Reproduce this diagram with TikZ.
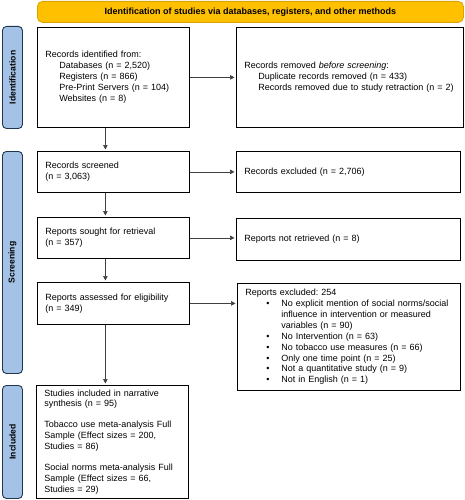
\documentclass[tikz,border=0pt]{standalone}
\usepackage{fontspec}
\setmainfont{Liberation Sans}
\usetikzlibrary{arrows.meta,calc}
\definecolor{bannerfill}{HTML}{FFC000}
\definecolor{bannerdraw}{HTML}{D9A400}
\definecolor{sidefill}{HTML}{A4C2E6}
\definecolor{sidedraw}{HTML}{1F3550}
\definecolor{arrowcol}{HTML}{404040}
\newcommand{\bitem}[1]{\makebox[36pt][l]{\hspace*{21pt}\textbullet}#1}
\newcommand{\bcont}[1]{\hspace*{36pt}#1}
\frenchspacing
\begin{document}
\begin{tikzpicture}[x=1pt,y=-1pt,
  every node/.style={font=\fontsize{9pt}{10.9pt}\selectfont},
  flowbox/.style={draw=black,line width=0.8pt,fill=white,anchor=north west,align=left,inner xsep=8pt,inner ysep=0pt},
  sidebar/.style={draw=sidedraw,line width=0.9pt,fill=sidefill,rounded corners=4pt,anchor=north west,minimum width=20pt,inner sep=0pt},
  sidelabel/.style={rotate=90,font=\bfseries\fontsize{8.6pt}{10pt}\selectfont},
  flowarrow/.style={draw=arrowcol,line width=0.7pt,-{Triangle[length=4.5pt,width=4.5pt]},shorten >=1.5pt}
]
\useasboundingbox (0,0) rectangle (465,500);
\fill[white] (0,0) rectangle (465,500);

% banner
\node[draw=bannerdraw,line width=0.8pt,fill=bannerfill,rounded corners=5pt,anchor=north west,minimum width=426pt,minimum height=21pt,inner sep=0pt,font=\bfseries\fontsize{9pt}{10pt}\selectfont] (banner) at (37,1) {Identification of studies via databases, registers, and other methods};

% sidebars
\node[sidebar,minimum height=102pt] (sid) at (2,26) {};
\node[sidelabel] at (sid.center) {Identification};
\node[sidebar,minimum height=222pt] (sscr) at (2,151) {};
\node[sidelabel] at (sscr.center) {Screening};
\node[sidebar,minimum height=113pt] (sinc) at (2,385) {};
\node[sidelabel] at (sinc.center) {Included};

% identification boxes
\node[flowbox,minimum width=152pt,minimum height=100pt,text width=136pt] (ident) at (37,27)
 {Records identified from:\\
  \hspace*{14pt}Databases (n = 2,520)\\
  \hspace*{14pt}Registers (n = 866)\\
  \hspace*{14pt}Pre-Print Servers (n = 104)\\
  \hspace*{14pt}Websites (n = 8)};
\node[flowbox,minimum width=227pt,minimum height=100pt,text width=211pt] (removed) at (236,27)
 {Records removed \textit{before screening}:\\
  \hspace*{14pt}Duplicate records removed (n = 433)\\
  \hspace*{14pt}Records removed due to study retraction (n = 2)};

% screening boxes
\node[flowbox,minimum width=152pt,minimum height=41pt,text width=136pt] (screened) at (37,151)
 {Records screened\\(n = 3,063)};
\node[flowbox,minimum width=224pt,minimum height=41pt,text width=208pt] (excluded) at (236,151)
 {Records excluded (n = 2,706)};

\node[flowbox,minimum width=152pt,minimum height=41pt,text width=136pt] (sought) at (37,217)
 {Reports sought for retrieval\\(n = 357)};
\node[flowbox,minimum width=224pt,minimum height=42pt,text width=208pt] (notret) at (236,218)
 {Reports not retrieved (n = 8)};

\node[flowbox,minimum width=152pt,minimum height=42pt,text width=136pt] (assessed) at (37,282)
 {Reports assessed for eligibility\\(n = 349)};
\node[flowbox,minimum width=223pt,minimum height=107pt,text width=207pt] (repexcl) at (237,283)
 {Reports excluded: 254\\
  \bitem{No explicit mention of social norms/social}\\
  \bcont{influence in intervention or measured}\\
  \bcont{variables (n = 90)}\\
  \bitem{No Intervention (n = 63)}\\
  \bitem{No tobacco use measures (n = 66)}\\
  \bitem{Only one time point (n = 25)}\\
  \bitem{Not a quantitative study (n = 9)}\\
  \bitem{Not in English (n = 1)}};

% included box
\node[flowbox,minimum width=152pt,minimum height=113pt,text width=136pt] (included) at (36,385)
 {Studies included in narrative\\
  synthesis (n = 95)\\[10pt]
  Tobacco use meta-analysis Full\\
  Sample (Effect sizes = 200,\\
  Studies = 86)\\[10pt]
  Social norms meta-analysis Full\\
  Sample (Effect sizes = 66,\\
  Studies = 29)};

% arrows
\draw[flowarrow] (ident.east) -- (removed.west |- ident.east);
\draw[flowarrow] ([xshift=-8pt]ident.south) -- ([xshift=-8pt]screened.north);
\draw[flowarrow] (screened.east) -- (excluded.west |- screened.east);
\draw[flowarrow] ([xshift=-8pt]screened.south) -- ([xshift=-8pt]sought.north);
\draw[flowarrow] (sought.east) -- (notret.west |- sought.east);
\draw[flowarrow] ([xshift=-8pt]sought.south) -- ([xshift=-8pt]assessed.north);
\draw[flowarrow] (assessed.east) -- (repexcl.west |- assessed.east);
\draw[flowarrow] ([xshift=-8pt]assessed.south) -- ([xshift=-8pt]assessed.south |- included.north);
\end{tikzpicture}
\end{document}
